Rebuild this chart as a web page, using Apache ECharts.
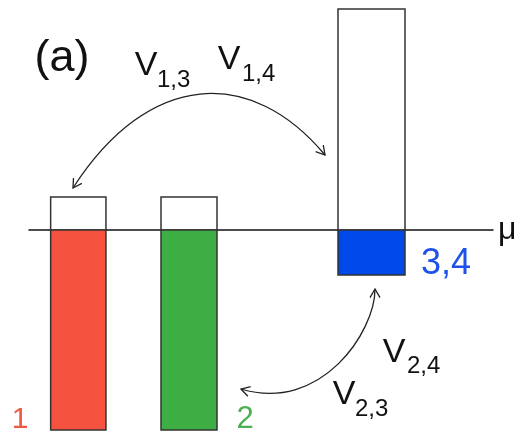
<!DOCTYPE html>
<html><head><meta charset="utf-8">
<script src="https://cdn.jsdelivr.net/npm/echarts@6/dist/echarts.min.js"></script>
<style>html,body{margin:0;padding:0;background:#fff}#c{width:522px;height:434px}</style>
</head><body><div id="c"></div>
<script>
// ---- data ----
const levelNames = ['1', '2', '3,4'];
const levelPositions = [49.3, 160, 342.5];     // position along μ axis
const bandWidths = [55.3, 56, 67];             // width of each level box
const emptyStates = [33, 33, 221];             // unoccupied part (above μ)
const filledStates = [200, 200, 45];           // occupied part (below μ)
// coupling arcs: [x0,y0, c1x,c1y, c2x,c2y, x3,y3] in data units
const couplingArcs = [
  [44, 42, 120.2, 160.1, 222.3, 163.4, 296, 75],      // V13, V14 : 1 <-> 3,4
  [212, -159, 292, -183, 346, -102, 346, -59]         // V23, V24 : 2 <-> 3,4
];
// ---- styles ----
const fillColors = ['#F5523F', '#3DAE44', '#0048E8'];
const labelColors = ['#F05A45', '#4CAF50', '#1E50EA'];
const FONT = "'Liberation Sans', Arial, Helvetica, sans-serif";

const barData = levelPositions.map((p, i) => [p, bandWidths[i], emptyStates[i], filledStates[i]]);

const chart = echarts.init(document.getElementById('c'), null, {renderer: 'canvas'});

function txt(text, x, y, size, color, align) {
  return {type: 'text', x: x, y: y, style: {text: text, fontSize: size, fontFamily: FONT,
    fill: color || '#111', align: align || 'center', verticalAlign: 'middle'}};
}

chart.setOption({
  animation: false,
  backgroundColor: '#fff',
  grid: {left: 29, right: 29, top: 9, bottom: 4},
  xAxis: {
    type: 'value', min: 0, max: 464,
    axisLine: {show: true, onZero: true, lineStyle: {color: '#111', width: 1.5}},
    axisTick: {show: false}, axisLabel: {show: false}, splitLine: {show: false},
    name: 'μ', nameLocation: 'end', nameGap: 5,
    nameTextStyle: {fontSize: 32, fontFamily: FONT, color: '#111', padding: [16, 0, 0, 0]}
  },
  yAxis: {type: 'value', min: -200, max: 221, show: false},
  series: [
    {
      type: 'custom', name: 'levels', data: barData, encode: {x: 0, y: 2}, z: 1,
      renderItem: function (params, api) {
        const x = api.value(0), w = api.value(1), up = api.value(2), down = api.value(3);
        const tl = api.coord([x - w / 2, up]);
        const mr = api.coord([x + w / 2, 0]);
        const bl = api.coord([x - w / 2, -down]);
        const idx = params.dataIndex;
        return {type: 'group', children: [
          {type: 'rect', shape: {x: tl[0], y: tl[1], width: mr[0] - tl[0], height: mr[1] - tl[1]},
            style: {fill: '#fff', stroke: '#333', lineWidth: 1.5}},
          {type: 'rect', shape: {x: tl[0], y: mr[1], width: mr[0] - tl[0], height: bl[1] - mr[1]},
            style: {fill: fillColors[idx], stroke: '#333', lineWidth: 1.5}}
        ]};
      }
    },
    {
      type: 'custom', name: 'couplings', data: couplingArcs, encode: {x: [0, 2, 4, 6], y: [1, 3, 5, 7]}, z: 3,
      renderItem: function (params, api) {
        const p = [0, 1, 2, 3].map(i => api.coord([api.value(2 * i), api.value(2 * i + 1)]));
        const head = (tip, from) => {
          const dx = tip[0] - from[0], dy = tip[1] - from[1];
          const len = Math.hypot(dx, dy); const ux = dx / len, uy = dy / len;
          const L = 10, a = Math.PI / 6, c = Math.cos(a), s = Math.sin(a);
          const w1 = [tip[0] - L * (ux * c - uy * s), tip[1] - L * (uy * c + ux * s)];
          const w2 = [tip[0] - L * (ux * c + uy * s), tip[1] - L * (uy * c - ux * s)];
          return {type: 'polyline', shape: {points: [w1, tip, w2]}, style: {stroke: '#222', fill: null, lineWidth: 1.3}};
        };
        return {type: 'group', children: [
          {type: 'bezierCurve', shape: {x1: p[0][0], y1: p[0][1], cpx1: p[1][0], cpy1: p[1][1],
            cpx2: p[2][0], cpy2: p[2][1], x2: p[3][0], y2: p[3][1]},
            style: {stroke: '#222', fill: null, lineWidth: 1.3}},
          head(p[0], p[1]), head(p[3], p[2])
        ]};
      }
    }
  ],
  graphic: [
    txt('(a)', 62, 59, 45),
    txt('V', 146, 66, 34), txt('1,3', 157, 80, 24, '#111', 'left'),
    txt('V', 229, 60, 34), txt('1,4', 242, 74, 24, '#111', 'left'),
    txt('V', 394, 353, 34), txt('2,4', 407, 366, 24, '#111', 'left'),
    txt('V', 344, 395, 34), txt('2,3', 355, 409, 24, '#111', 'left'),
    txt(levelNames[0], 20, 420, 30, labelColors[0]),
    txt(levelNames[1], 245, 419, 31, labelColors[1]),
    txt(levelNames[2], 421, 264, 36, labelColors[2], 'left')
  ]
});
</script>
</body></html>
